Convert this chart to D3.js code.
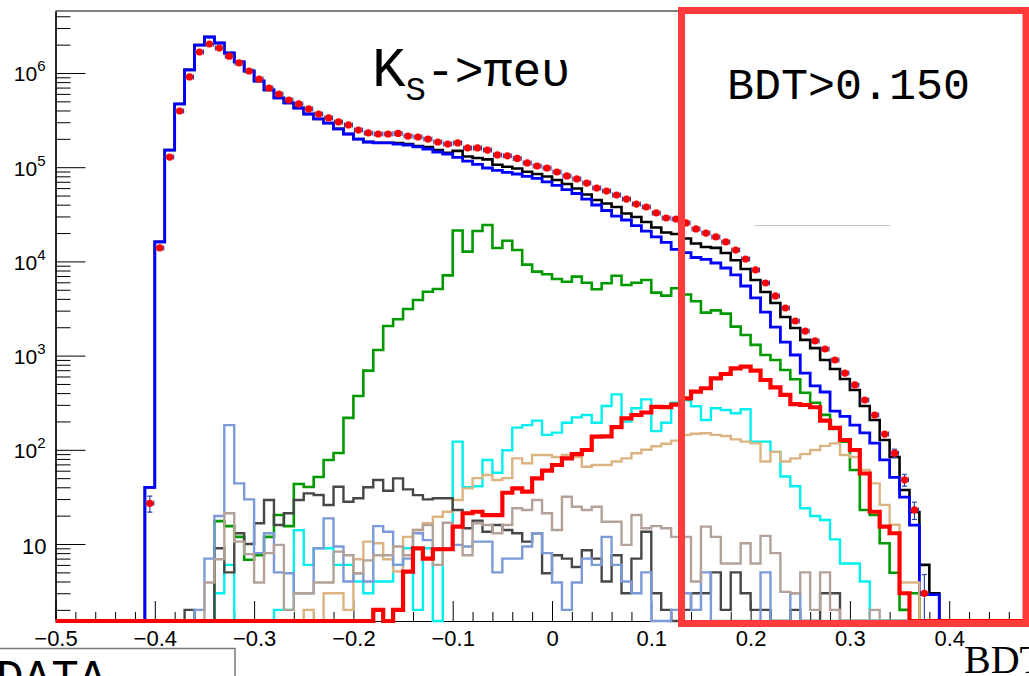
<!DOCTYPE html>
<html>
<head>
<meta charset="utf-8">
<script src="https://cdn.jsdelivr.net/npm/d3@7"></script>
<style>
  html, body { margin: 0; padding: 0; background: #fff; }
  svg { display: block; }
</style>
</head>
<body>
<svg id="chart" width="1029" height="676"></svg>
<script>
// Binning of the BDT output: 100 bins of width 0.01 from -0.5 to 0.5
const binLow = -0.5;
const binWidth = 0.01;
const nBins = 100;

// Data (counts per bin), first entry is bin index dataStart
const dataStart = 9;
const dataCounts = [27, 13900, 128000, 395000, 908000, 1670000, 2030000, 1840000, 1510000, 1280000,
  1050000, 863000, 693000, 598000, 517000, 469000, 415000, 367000, 333000, 302000,
  281000, 248000, 231000, 225000, 225000, 228000, 214000, 209000, 199000, 185000,
  176000, 181000, 160000, 160000, 152000, 135000, 132000, 124000, 111000, 103000,
  98100, 88900, 80700, 75000, 67900, 60100, 55800, 50700, 45900, 40600,
  37800, 32700, 28900, 28200, 25600, 22100, 20000, 18200, 16100, 13200,
  10600, 8110, 5900, 4300, 3200, 2330, 1820, 1430, 1175, 898,
  653, 488, 338, 234, 147, 92, 48, 23, 3];

// Total MC (sum of all components)
const totalStart = 9;
const totalCounts = [40, 16100, 152000, 469000, 1080000, 1980000, 2410000, 2080000, 1630000, 1310000,
  1050000, 822000, 661000, 543000, 481000, 425000, 367000, 325000, 294000, 255000,
  225000, 199000, 185000, 182000, 182000, 180000, 176000, 168000, 164000, 152000,
  142000, 149000, 130000, 125000, 121000, 106000, 101000, 96900, 89600, 84700,
  79700, 73100, 66300, 59400, 51300, 44900, 41200, 37800, 32200, 29600,
  26200, 22900, 20300, 19500, 17500, 15500, 14200, 13900, 12300, 10300,
  8300, 6350, 4730, 3620, 2570, 1960, 1470, 1200, 898, 721,
  565, 431, 292, 207, 127, 84, 37.4, 21.9, 6, 3];

// K_S -> pi+ pi- component
const pipiStart = 9;
const pipiCounts = [40, 16100, 152000, 469000, 1080000, 1980000, 2410000, 2080000, 1630000, 1310000,
  1050000, 822000, 661000, 543000, 481000, 425000, 367000, 325000, 294000, 255000,
  225000, 199000, 185000, 181000, 181000, 176000, 172000, 164000, 156000, 145000,
  138000, 127000, 116000, 107000, 98100, 92300, 87900, 84700, 79700, 75900,
  69700, 64000, 57900, 52600, 45900, 39700, 34700, 30300, 27500, 24000,
  21000, 18200, 15900, 13400, 12400, 11000, 10500, 9620, 8510, 7180,
  5480, 4090, 2900, 2010, 1390, 1015, 653, 476, 411, 258,
  226, 183, 151, 118, 78, 51, 31.5, 15.9, 2.9, 2.9];

// Green component
const greenStart = 16;
const greenCounts = [17.5, 15.5, 11.9, 6.8, 7.6, 11.9, 20.3, 15.5, 43.4, 40.3,
  51.4, 78, 92.5, 218, 372, 692, 1148, 2060, 2430, 3125,
  3890, 4760, 5090, 7100, 21300, 12700, 21000, 24300, 13850, 16550,
  13200, 9230, 7780, 7310, 6500, 6090, 6890, 5940, 5060, 5860,
  7050, 5610, 5940, 6350, 4660, 4330, 5180, 4450, 3780, 2860,
  3020, 2790, 2030, 1655, 1300, 1015, 898, 703, 560, 404,
  316, 235, 166, 122, 61, 23, 20.3, 10.2, 4.95, 2.0, 3.0];

// Signal K_S -> pi e nu
const signalStart = 32;
const signalCounts = [2, 0, 2, 5.1, 9, 7, 8.8, 8.8, 15.3, 21.2,
  22, 20.3, 20.3, 35, 39, 36, 49.8, 60, 69, 81,
  90, 99.5, 138, 139, 174, 216, 234, 249, 285, 284,
  302, 352, 414, 450, 574, 638, 733, 762, 692, 551,
  461, 382, 306, 299, 283, 204, 171, 127, 99.5, 56,
  22, 15.3, 13, 3];

// Cyan component
const cyanStart = 16;
const cyanCounts = [3, 6, 0, 0, 0, 0, 2, 2, 14, 6,
  9, 9, 6, 6, 4, 3, 4, 4, 6, 9,
  2, 9, 0, 9, 122, 40, 41, 78, 57, 99,
  172, 183, 204, 144, 152, 194, 221, 234, 194, 292,
  388, 199, 276, 343, 158, 194, 316, 335, 290, 207,
  276, 265, 244, 269, 122, 122, 95, 52, 41, 24,
  19.8, 18, 11.2, 6.2, 6.2, 4];

// Tan component
const tanStart = 25;
const tanCounts = [2, 0, 3, 3, 2, 6.9, 10.6, 10.2, 6.9, 5.1,
  11.9, 14.1, 16.6, 19.5, 22, 29.3, 39, 50, 54, 47.8,
  50, 81, 72, 88, 88, 84, 88, 84, 66, 69,
  69, 75, 81, 92, 100, 109, 116, 125, 144, 148,
  150, 144, 140, 129, 122, 117, 75, 95, 75, 81,
  90, 99.5, 110, 117, 88, 84, 61, 44, 26, 16, 3.9, 3.9];

// Dark grey component
const greyStart = 13;
const greyCounts = [2, 0, 0, 9, 5, 13, 10, 16.6, 29.3, 15.9,
  21.2, 29.3, 34.5, 33.1, 25.9, 40.6, 28.1, 30.6, 40, 47.8,
  36.8, 49.8, 38, 33, 29.8, 30.6, 30.6, 23, 14.7, 17.7,
  13.5, 15.9, 14.1, 13, 10.6, 13, 4.9, 7.6, 7, 5.7,
  8.6, 7, 4, 7.6, 3, 7, 13.5, 3, 2, 0,
  2, 3, 3, 5, 2, 5, 3, 2, 2, 0,
  0, 2, 0, 0, 3, 3];

// Light blue component
const lightBlueStart = 14;
const lightBlueCounts = [2, 7, 19.8, 183, 44, 29.8, 8, 13, 5, 4.9,
  3, 3, 9, 18.7, 9.4, 4, 4.9, 4, 15.5, 13.5,
  6, 7, 13, 11, 9, 9, 9.8, 9.4, 10.6, 10.6,
  5, 7, 7, 9.4, 13, 8, 3.9, 2, 3.9, 7,
  6, 11.9, 6, 4, 3, 5, 0, 0, 2, 3,
  2, 5, 0, 0, 0, 0, 0, 5, 0, 0, 3];

// Rosy brown component
const rosyStart = 15;
const rosyCounts = [3.9, 6.9, 21.2, 10.6, 7.8, 3.9, 8, 9.8, 2, 3,
  3, 3.9, 3.9, 8.3, 7.6, 4.9, 6.7, 7.6, 7.6, 9.4,
  7.6, 14.1, 15.9, 6, 16.8, 15.3, 7.6, 16.6, 15.9, 13,
  15.9, 24, 23, 29.3, 21.2, 14.1, 31.8, 24.9, 23, 24.9,
  17.2, 17.2, 9.8, 20.3, 14.7, 15.5, 14.7, 11.9, 11.9, 4,
  15.3, 11.9, 6.2, 6.2, 10.2, 6.2, 12.2, 8, 3.1, 3,
  5, 2, 5, 2, 0, 0, 0, 2];

// Axis tick values (the 0.5 end of the axis lies beyond the visible area)
const xMajorTicks = [-0.5, -0.4, -0.3, -0.2, -0.1, 0, 0.1, 0.2, 0.3, 0.4, 0.5];
const xLabelTicks = [-0.5, -0.4, -0.3, -0.2, -0.1, 0, 0.1, 0.2, 0.3, 0.4];
const yMajorTicks = [10, 100, 1000, 10000, 100000, 1000000];
const yExponents = ["", "2", "3", "4", "5", "6"];

// ---------------------------------------------------------------
const svg = d3.select("#chart");
const W = 1029, H = 676;
svg.append("rect").attr("width", W).attr("height", H).attr("fill", "#fff");

const frame = { left: 55.5, right: 1048.5, top: 11, bottom: 621 };
const yMin = 1.523, yMax = 4.55e6;

const x = d3.scaleLinear().domain([-0.5, 0.5]).range([frame.left, frame.right]);
const y = d3.scaleLog().domain([yMin, yMax]).range([frame.bottom, frame.top]);

const sansFont = "'Liberation Sans', Arial, Helvetica, sans-serif";
const monoFont = "'Courier New', 'Nimbus Mono PS', FreeMono, Courier, 'Liberation Mono', monospace";

// clip for histogram lines
svg.append("defs").append("clipPath").attr("id", "plotClip")
  .append("rect")
  .attr("x", frame.left).attr("y", frame.top - 2)
  .attr("width", frame.right - frame.left).attr("height", frame.bottom - frame.top + 5);

// frame top line
svg.append("line")
  .attr("x1", frame.left).attr("x2", frame.right)
  .attr("y1", frame.top).attr("y2", frame.top)
  .attr("stroke", "#000").attr("stroke-width", 1);

// ---- axes ----
const xMinorTicks = d3.range(-50, 51, 2).map(v => v / 100).filter(v => !xMajorTicks.some(m => Math.abs(m - v) < 1e-9));

const xAxisMinor = d3.axisBottom(x).tickValues(xMinorTicks).tickSize(-9).tickSizeOuter(0).tickFormat("");
const xAxisMajor = d3.axisBottom(x).tickValues(xMajorTicks).tickSize(-20).tickSizeOuter(0).tickFormat("");
const xAxisLabels = d3.axisBottom(x).tickValues(xLabelTicks).tickSize(0).tickSizeOuter(0).tickPadding(9)
  .tickFormat(v => Math.abs(v) < 1e-9 ? "0" : d3.format(".1f")(v));

const gxMinor = svg.append("g").attr("transform", `translate(0,${frame.bottom})`).call(xAxisMinor);
const gx = svg.append("g").attr("transform", `translate(0,${frame.bottom})`).call(xAxisMajor);
const gxl = svg.append("g").attr("transform", `translate(0,${frame.bottom})`).call(xAxisLabels);
[gxMinor, gx, gxl].forEach(g => {
  g.select(".domain").attr("stroke", "#000").attr("stroke-width", 1.2);
  g.selectAll(".tick line").attr("stroke", "#000").attr("stroke-width", 1);
});
gxl.attr("font-size", 22).attr("font-family", sansFont);
gxl.selectAll(".tick text")
  .attr("font-family", sansFont)
  .attr("font-size", 22)
  .attr("fill", "#000");

const yMinorTicks = [];
for (let e = 0; e <= 6; e++) {
  for (let m = 2; m <= 9; m++) {
    const v = m * Math.pow(10, e);
    if (v > yMin && v < yMax) yMinorTicks.push(v);
  }
}
const yAxisMinor = d3.axisLeft(y).tickValues(yMinorTicks).tickSize(-15).tickSizeOuter(0).tickFormat("");
const yAxisMajor = d3.axisLeft(y).tickValues(yMajorTicks).tickSize(-30).tickSizeOuter(0).tickPadding(12).tickFormat("");

const gyMinor = svg.append("g").attr("transform", `translate(${frame.left},0)`).call(yAxisMinor);
const gy = svg.append("g").attr("transform", `translate(${frame.left},0)`).call(yAxisMajor);
[gyMinor, gy].forEach(g => {
  g.select(".domain").attr("stroke", "#000").attr("stroke-width", 1.2);
  g.selectAll(".tick line").attr("stroke", "#000").attr("stroke-width", 1);
});
gy.attr("font-size", 21).attr("font-family", sansFont);

// y labels as 10 with superscript exponent
gy.selectAll(".tick").each(function(d, i) {
  const t = d3.select(this).select("text");
  t.text(null).attr("x", null).attr("dy", null)
   .attr("font-family", sansFont)
   .attr("fill", "#000").attr("text-anchor", "end");
  if (yExponents[i] === "") {
    t.attr("x", -9).attr("y", 9).attr("font-size", 22).text("10");
  } else {
    t.attr("x", -10).attr("y", 8).attr("font-size", 21);
    t.append("tspan").text("10");
    t.append("tspan").attr("font-size", 15).attr("dy", -10).text(yExponents[i]);
  }
});

// ---- histograms ----
function countAt(start, counts, i) {
  return (i >= start && i < start + counts.length) ? counts[i - start] : 0;
}
function stepPath(start, counts) {
  let d = "";
  for (let i = 0; i < nBins; i++) {
    const c = countAt(start, counts, i);
    const yy = y(c > yMin ? c : yMin);
    const x0 = x(binLow + i * binWidth), x1 = x(binLow + (i + 1) * binWidth);
    d += (i === 0 ? "M" : "L") + x0 + "," + yy + "L" + x1 + "," + yy;
  }
  return d;
}

const plot = svg.append("g").attr("clip-path", "url(#plotClip)");
const histos = [
  { start: totalStart, counts: totalCounts, color: "#000000", width: 2.6 },
  { start: pipiStart, counts: pipiCounts, color: "#0000ff", width: 2.8 },
  { start: greenStart, counts: greenCounts, color: "#009a00", width: 2.6 },
  { start: cyanStart, counts: cyanCounts, color: "#00f0f0", width: 2.4 },
  { start: tanStart, counts: tanCounts, color: "#dcb482", width: 2.4 },
  { start: greyStart, counts: greyCounts, color: "#474747", width: 2.4 },
  { start: lightBlueStart, counts: lightBlueCounts, color: "#7c9ad8", width: 2.4 },
  { start: rosyStart, counts: rosyCounts, color: "#b4a299", width: 2.4 },
  { start: signalStart, counts: signalCounts, color: "#ff0000", width: 4.2 }
];
histos.forEach(h => {
  plot.append("path")
    .attr("d", stepPath(h.start, h.counts))
    .attr("fill", "none")
    .attr("stroke", h.color)
    .attr("stroke-width", h.width)
    .attr("stroke-linejoin", "miter");
});

// ---- data points with error bars ----
const errColor = "#2b3daa";
const dataPts = dataCounts.map((c, k) => ({ bin: dataStart + k, n: c }));
const gData = svg.append("g").attr("clip-path", "url(#plotClip)");
dataPts.forEach(p => {
  const xc = x(binLow + (p.bin + 0.5) * binWidth);
  const xl = x(binLow + p.bin * binWidth) + 1, xr = x(binLow + (p.bin + 1) * binWidth) - 1;
  const yc = y(p.n);
  const err = Math.sqrt(p.n);
  const yLo = y(Math.max(p.n - err, yMin)), yHi = y(p.n + err);
  gData.append("line").attr("x1", xl).attr("x2", xr).attr("y1", yc).attr("y2", yc)
    .attr("stroke", errColor).attr("stroke-width", 1.1);
  [xl, xr].forEach(xx => gData.append("line").attr("x1", xx).attr("x2", xx).attr("y1", yc - 2.5).attr("y2", yc + 2.5)
    .attr("stroke", errColor).attr("stroke-width", 1.1));
  if (Math.abs(yLo - yHi) > 7) {
    gData.append("line").attr("x1", xc).attr("x2", xc).attr("y1", yLo).attr("y2", yHi)
      .attr("stroke", errColor).attr("stroke-width", 1.1);
    [yLo, yHi].forEach(yy => gData.append("line").attr("x1", xc - 2.5).attr("x2", xc + 2.5).attr("y1", yy).attr("y2", yy)
      .attr("stroke", errColor).attr("stroke-width", 1.1));
  }
  gData.append("circle").attr("cx", xc).attr("cy", yc).attr("r", 3.6).attr("fill", "#ff0000");
});

// ---- annotations ----
svg.append("line").attr("x1", 755).attr("x2", 890).attr("y1", 225.5).attr("y2", 225.5)
  .attr("stroke", "#c4c4c4").attr("stroke-width", 1);

const title = svg.append("text")
  .attr("x", 372).attr("y", 86)
  .attr("font-family", monoFont)
  .attr("font-size", 48).attr("fill", "#000");
title.append("tspan").attr("font-size", 56).text("K");
title.append("tspan").attr("font-size", 34).attr("dy", 14).text("S");
title.append("tspan").attr("dy", -14).text("->\u03c0e\u03c5");

// selection box
svg.append("rect")
  .attr("x", 681.5).attr("y", 10.5).attr("width", 344.5).attr("height", 613)
  .attr("fill", "none").attr("stroke", "#ff3b3b").attr("stroke-width", 7);

svg.append("text")
  .attr("x", 727).attr("y", 99)
  .attr("font-family", monoFont)
  .attr("font-size", 45).attr("fill", "#000")
  .text("BDT>0.150");

// axis title
svg.append("text")
  .attr("x", 964).attr("y", 673)
  .attr("font-family", "'Liberation Serif', 'Times New Roman', serif")
  .attr("font-size", 40).attr("fill", "#000")
  .text("BDT");

// legend box (partly visible)
svg.append("rect")
  .attr("x", -3).attr("y", 648.5).attr("width", 238).attr("height", 60)
  .attr("fill", "#fff").attr("stroke", "#777").attr("stroke-width", 1.5);
svg.append("text")
  .attr("x", -4).attr("y", 692)
  .attr("font-family", monoFont)
  .attr("font-size", 46).attr("fill", "#000")
  .text("DATA");
</script>
</body>
</html>
